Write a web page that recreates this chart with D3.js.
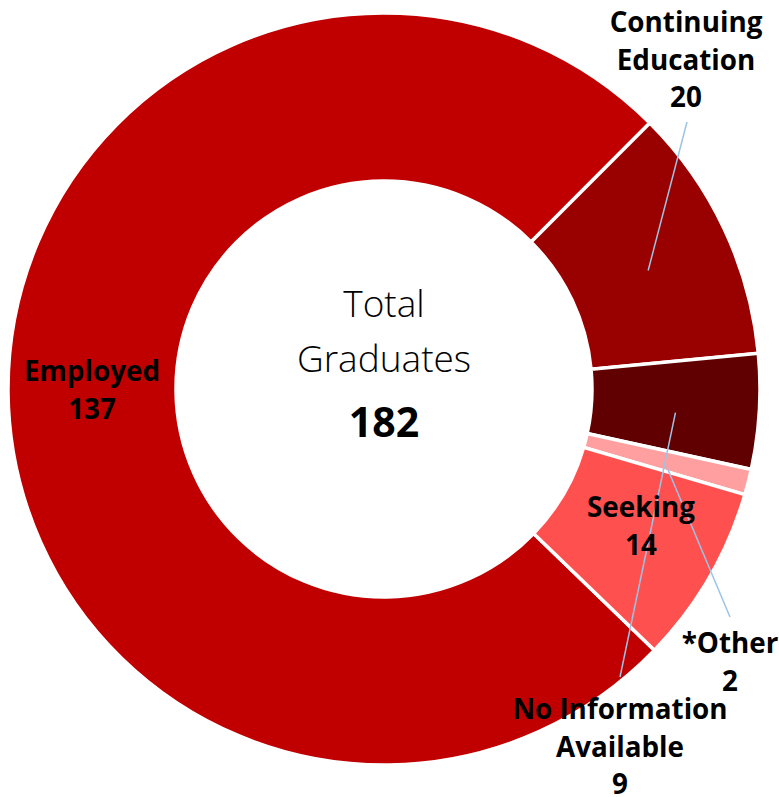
<!DOCTYPE html>
<html>
<head>
<meta charset="utf-8">
<script src="https://cdn.jsdelivr.net/npm/d3@7"></script>
<style>
  html, body { margin: 0; padding: 0; background: #fff; }
  svg { display: block; }
</style>
</head>
<body>
<svg id="chart" width="779" height="797"></svg>
<script>
// ---- data ----
const categories = ["Employed", "Continuing Education", "No Information Available", "*Other", "Seeking"];
const values = [137, 20, 9, 2, 14];
const labelLines = [["Employed"], ["Continuing", "Education"], ["No Information", "Available"], ["*Other"], ["Seeking"]];
const colors = ["#C00000", "#990000", "#600000", "#FF9F9F", "#FF5050"];
const centerTitle = ["Total", "Graduates"];

// ---- layout ----
const W = 779, H = 797;
const cx = 384, cy = 389;
const outerR = 376, innerR = 208;
const startDeg = 134;
const lineH = 37.5;
// label anchor (x of centre, baseline of first line) and whether a leader is drawn
const labelLayout = [
  { x: 92,  y: 381, leader: false },
  { x: 686, y: 32,  leader: true, from: [687, 122], dy: 6 },
  { x: 620, y: 719, leader: true, from: [620, 677], dy: 6 },
  { x: 730, y: 653, leader: true, from: [730, 617], dy: 6 },
  { x: 641, y: 517, leader: false }
];

const svg = d3.select("#chart");
const g = svg.append("g").attr("transform", `translate(${cx},${cy})`);

const data = categories.map((c, i) => ({ name: c, value: values[i], idx: i }));
const pie = d3.pie().value(d => d.value).sort(null)
  .startAngle(startDeg * Math.PI / 180)
  .endAngle(startDeg * Math.PI / 180 + 2 * Math.PI);
const arcs = pie(data);
const arc = d3.arc().innerRadius(innerR).outerRadius(outerR);

g.selectAll("path.slice").data(arcs).enter().append("path")
  .attr("class", "slice")
  .attr("d", arc)
  .attr("fill", d => colors[d.data.idx])
  .attr("stroke", "#fff")
  .attr("stroke-width", 3.5)
  .attr("stroke-linejoin", "miter");

// leader lines
arcs.forEach(a => {
  const L = labelLayout[a.data.idx];
  if (!L.leader) return;
  const c = arc.centroid(a);
  svg.append("line")
    .attr("x1", L.from[0]).attr("y1", L.from[1])
    .attr("x2", cx + c[0]).attr("y2", cy + c[1] + L.dy)
    .attr("stroke", "#9DC3E6").attr("stroke-width", 1.5);
});

// data labels
arcs.forEach(a => {
  const i = a.data.idx;
  const L = labelLayout[i];
  const lines = labelLines[i].concat([String(values[i])]);
  const t = svg.append("text")
    .attr("text-anchor", "middle")
    .attr("font-family", "'Open Sans', sans-serif")
    .attr("font-weight", 700)
    .attr("font-size", 27.8)
    .attr("fill", "#000");
  lines.forEach((ln, k) => {
    t.append("tspan").attr("x", L.x).attr("y", L.y + k * lineH).text(ln);
  });
});

// centre text
const total = d3.sum(values);
svg.append("text").attr("x", cx).attr("y", 317).attr("text-anchor", "middle")
  .attr("font-family", "'Open Sans', sans-serif").attr("font-weight", 300)
  .attr("font-size", 37).attr("fill", "#000").text(centerTitle[0]);
svg.append("text").attr("x", cx).attr("y", 372).attr("text-anchor", "middle")
  .attr("font-family", "'Open Sans', sans-serif").attr("font-weight", 300)
  .attr("font-size", 37).attr("fill", "#000").text(centerTitle[1]);
svg.append("text").attr("x", cx).attr("y", 437).attr("text-anchor", "middle")
  .attr("font-family", "'Open Sans', sans-serif").attr("font-weight", 700)
  .attr("font-size", 41).attr("fill", "#000").text(String(total));
</script>
</body>
</html>
